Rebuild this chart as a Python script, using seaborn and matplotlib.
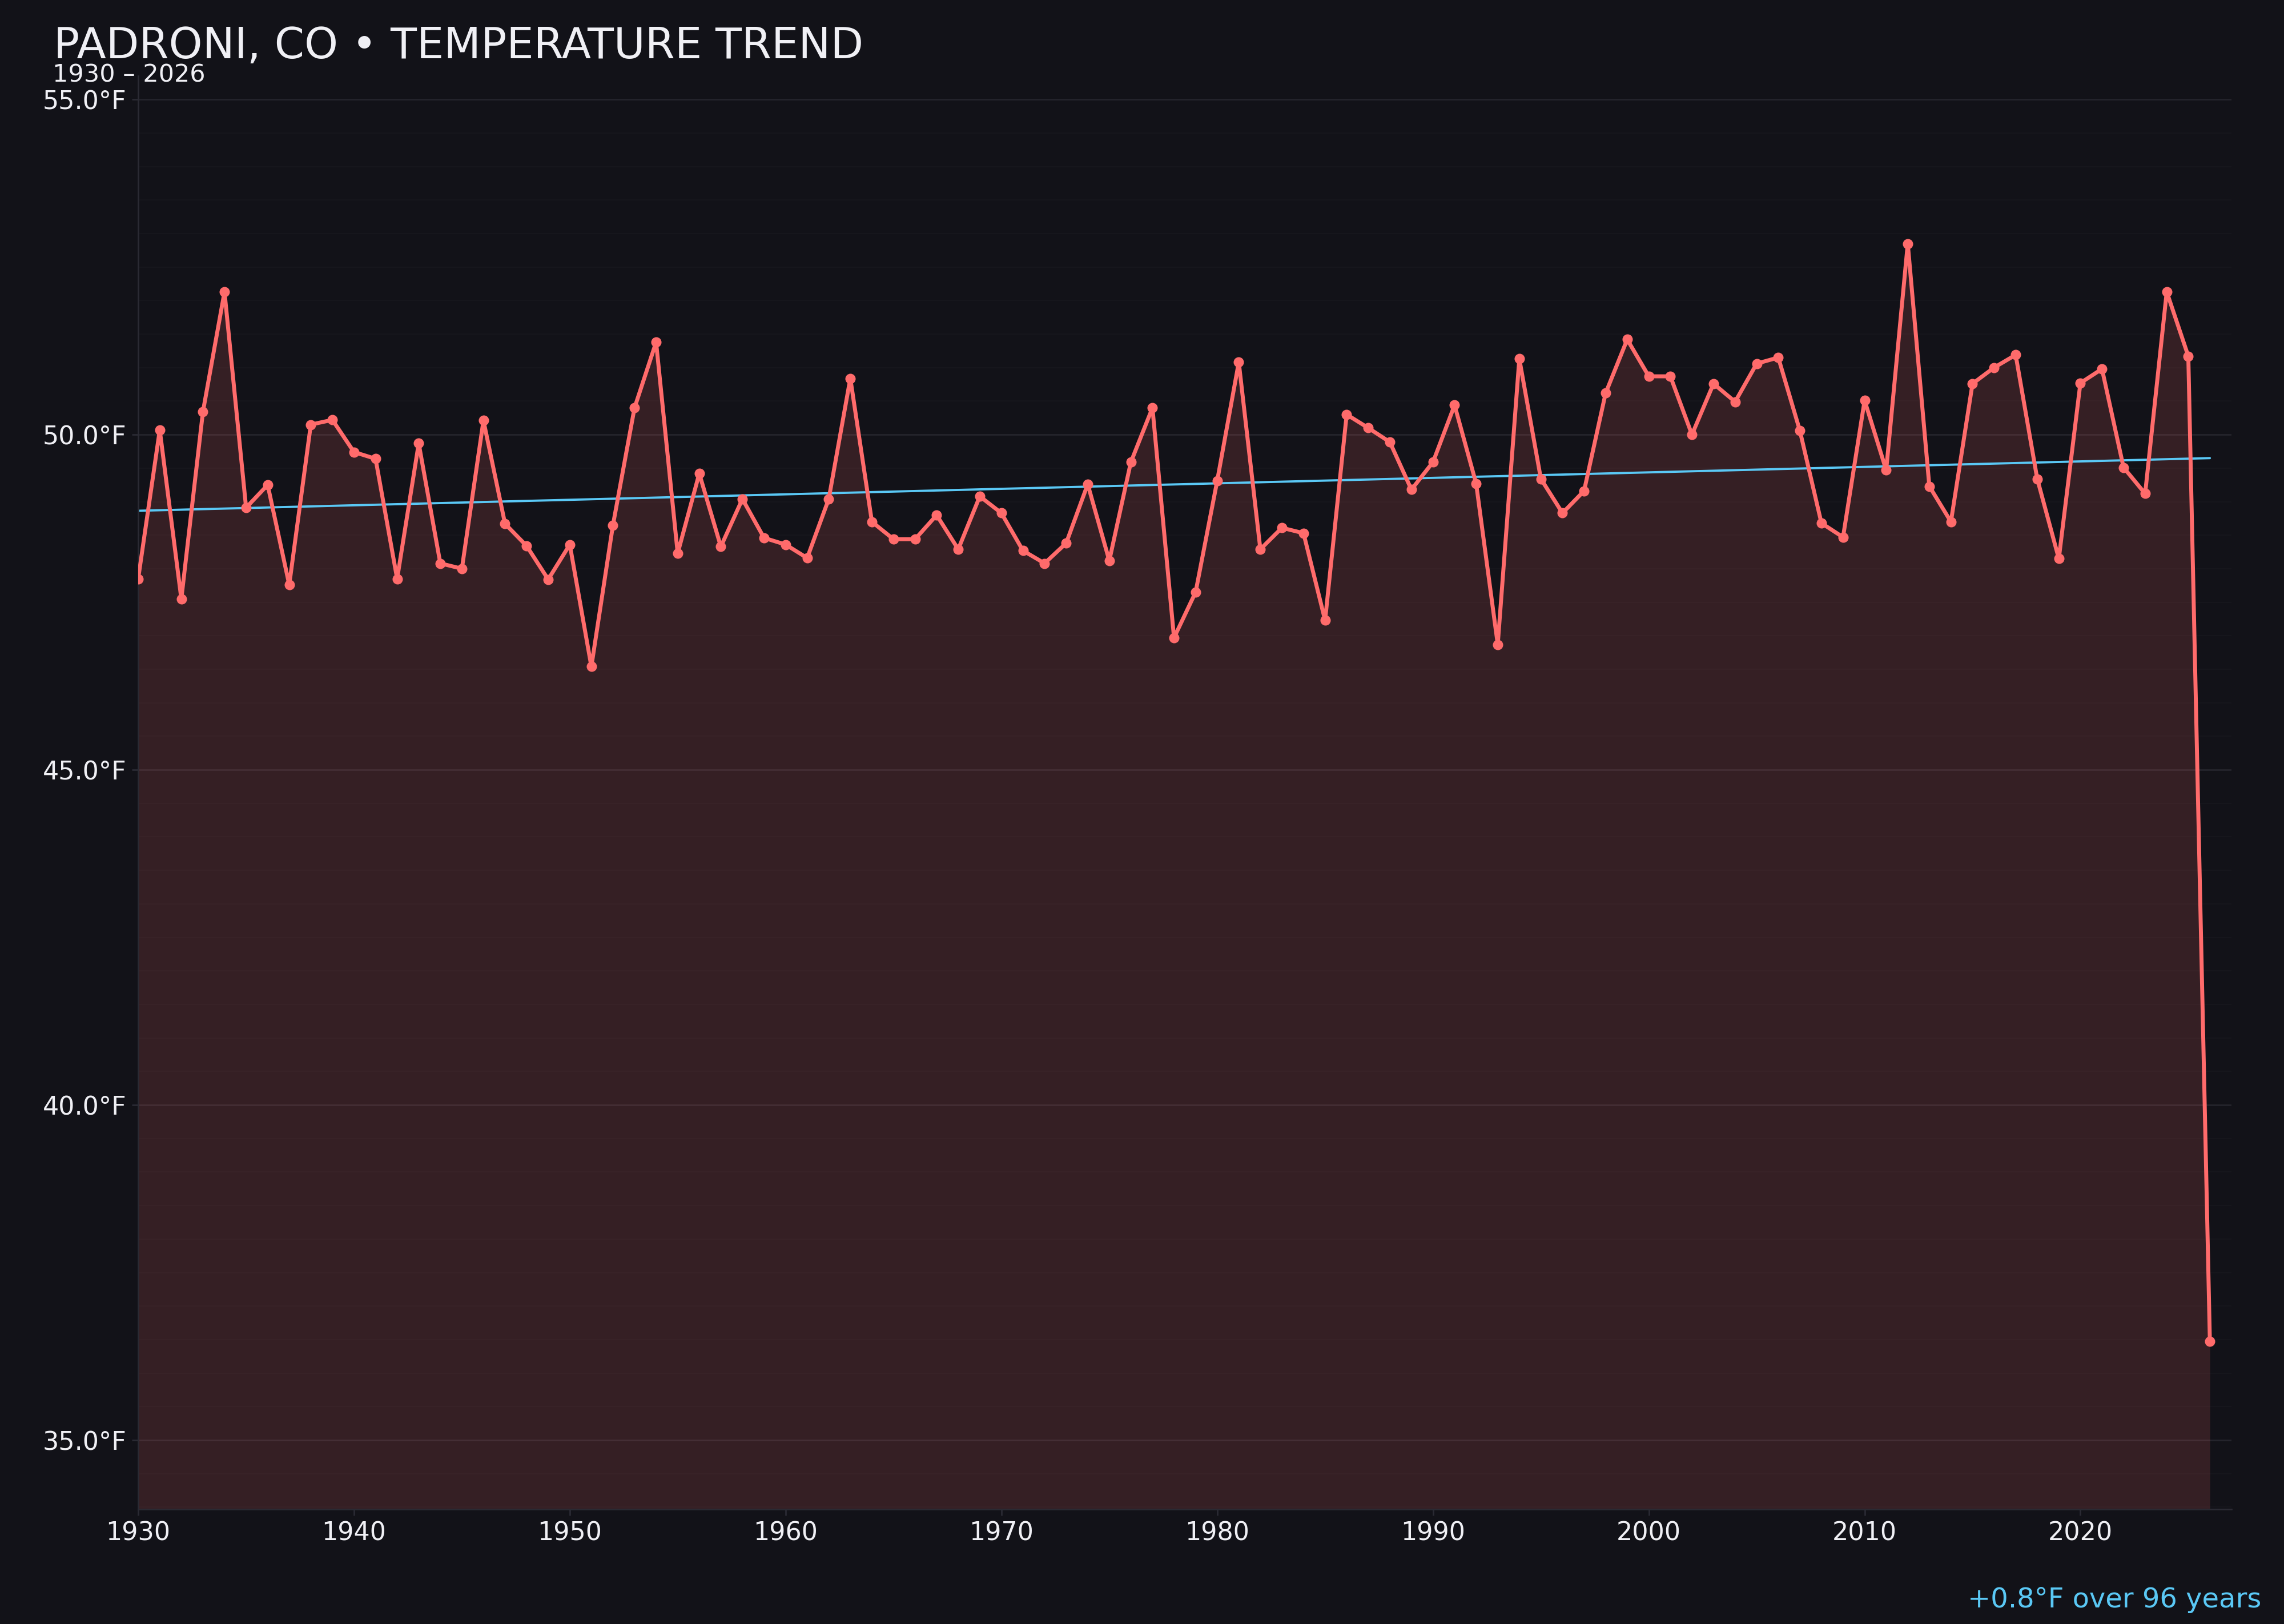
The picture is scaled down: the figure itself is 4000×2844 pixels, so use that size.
import numpy as np
import pandas as pd
import seaborn as sns
import matplotlib.pyplot as plt
from matplotlib.ticker import MultipleLocator, FuncFormatter

# annual mean temperature, Padroni CO
years = list(range(1930, 2027))
temps = [
    47.85, 50.07, 47.55, 50.34, 52.13, 48.91, 49.25, 47.76, 50.15, 50.22,  # 1930s
    49.74, 49.64, 47.85, 49.87, 48.08, 48.00, 50.21, 48.67, 48.34, 47.84,  # 1940s
    48.36, 46.54, 48.65, 50.40, 51.38, 48.23, 49.42, 48.33, 49.04, 48.46,  # 1950s
    48.36, 48.16, 49.04, 50.84, 48.70, 48.44, 48.44, 48.80, 48.29, 49.08,  # 1960s
    48.83, 48.27, 48.08, 48.38, 49.26, 48.12, 49.59, 50.40, 46.97, 47.65,  # 1970s
    49.31, 51.08, 48.29, 48.61, 48.53, 47.23, 50.30, 50.10, 49.89, 49.18,  # 1980s
    49.59, 50.44, 49.27, 46.87, 51.13, 49.34, 48.83, 49.16, 50.62, 51.42,  # 1990s
    50.87, 50.87, 50.00, 50.76, 50.49, 51.06, 51.15, 50.06, 48.68, 48.47,  # 2000s
    50.51, 49.47, 52.85, 49.23, 48.70, 50.76, 51.00, 51.19, 49.34, 48.15,  # 2010s
    50.77, 50.98, 49.51, 49.12, 52.13, 51.17, 36.47,                       # 2020s
]
xticks = [1930, 1940, 1950, 1960, 1970, 1980, 1990, 2000, 2010, 2020]
yticks = [35, 40, 45, 50, 55]

BG = '#121218'
LINE = '#ff6b6b'
TREND = '#5ac8f5'
TEXT = '#f0f0f5'
DIM = '#2a2a33'

df = pd.DataFrame({'year': years, 'temp': temps})

# linear trend
slope, intercept = np.polyfit(df['year'], df['temp'], 1)
df['trend'] = slope * df['year'] + intercept
span = years[-1] - years[0]
change = slope * span

sns.set_theme(style='dark')
plt.rcParams['font.family'] = ['DejaVu Sans']

fig = plt.figure(figsize=(20, 14.22), dpi=200, facecolor=BG)
ax = fig.add_axes([0.0605, 0.0707, 0.9165, 0.8825])
ax.set_facecolor(BG)

ymin = min(temps) - 2.5
ymax = max(temps) + 2.5

ax.fill_between(df['year'], df['temp'], ymin, color=LINE, alpha=0.15, linewidth=0, zorder=1)
sns.lineplot(data=df, x='year', y='temp', ax=ax, color=LINE, linewidth=2.5,
             marker='o', markersize=6.5, markeredgewidth=0, zorder=3)
sns.lineplot(data=df, x='year', y='trend', ax=ax, color=TREND, linewidth=1.4, zorder=2)

ax.set_xlim(years[0], years[-1] + 1)
ax.set_ylim(ymin, ymax)
ax.set_xticks(xticks)
ax.set_yticks(yticks)
ax.yaxis.set_minor_locator(MultipleLocator(0.5))
ax.yaxis.set_major_formatter(FuncFormatter(lambda v, p: f'{v:.1f}°F'))
ax.set_xlabel('')
ax.set_ylabel('')

ax.grid(axis='y', which='major', color='#24242c', linewidth=1.0)
ax.grid(axis='y', which='minor', color='#17171d', linewidth=0.7)
ax.grid(axis='x', visible=False)
ax.set_axisbelow(True)

for side in ['top', 'right']:
    ax.spines[side].set_visible(False)
for side in ['left', 'bottom']:
    ax.spines[side].set_color(DIM)
    ax.spines[side].set_linewidth(1.0)

ax.tick_params(axis='both', which='major', colors=DIM, labelcolor=TEXT,
               labelsize=16, length=4, width=1, bottom=True, left=True)
ax.tick_params(axis='y', which='minor', length=0)

fig.text(0.0235, 0.9642, 'PADRONI, CO • TEMPERATURE TREND', color=TEXT,
         fontsize=27, ha='left', va='baseline')
fig.text(0.023, 0.9494, f'{years[0]} – {years[-1]}', color=TEXT,
         fontsize=15.5, ha='left', va='baseline')
fig.text(0.990, 0.0102, f'{change:+.1f}°F over {span} years', color=TREND,
         fontsize=17.3, ha='right', va='baseline')

fig.savefig('out.png', dpi=200, facecolor=BG)
